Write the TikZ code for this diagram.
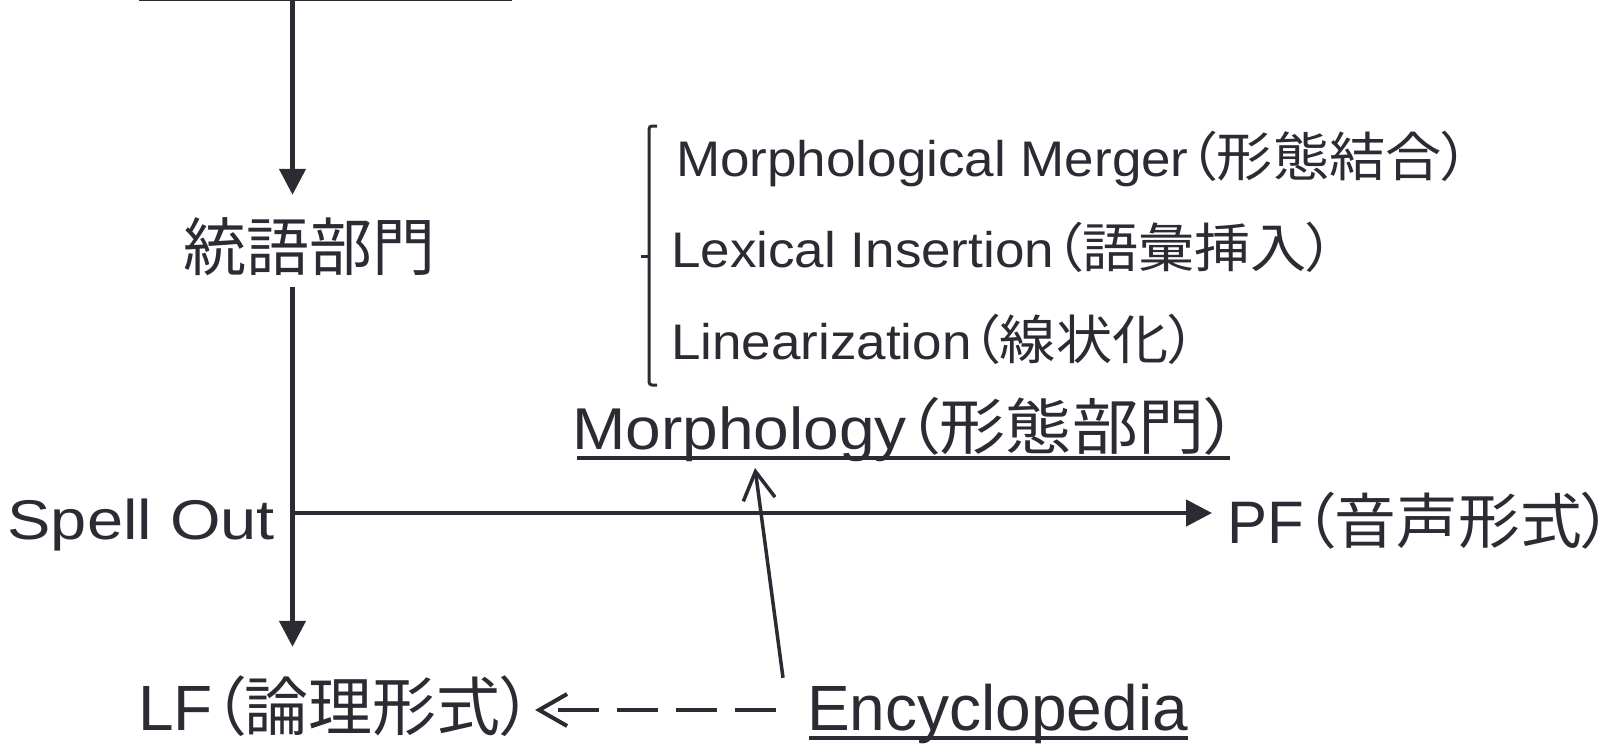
\documentclass[tikz,border=0pt]{standalone}
\usepackage{fontspec}
\usepackage{graphicx}
\setmainfont{Liberation Sans}
\newfontfamily\cjk[RawFeature=+palt]{Noto Sans CJK JP}
\newcommand\J[1]{{\cjk #1}}
\newcommand\SX[2]{\scalebox{#1}[1]{#2}}
\newcommand\fs[1]{\fontsize{#1}{#1}\selectfont}
\newcommand\ItemJ[1]{{\cjk\fs{53}#1}}
\usetikzlibrary{arrows.meta,calc}
\definecolor{ink}{RGB}{43,43,51}
\begin{document}
\begin{tikzpicture}[x=1pt,y=-1pt,
  txt/.style={inner sep=0pt, text=ink, text height=46pt, text depth=6pt},
  item/.style={inner sep=0pt, text=ink, font=\fs{50}},
  arr/.style={draw=ink, line width=4.5pt, -{Triangle[length=26pt,width=26pt]}},
  barb/.style={draw=ink, line width=3.5pt, -{Straight Barb[length=28pt,width=32pt]}},
  dasharr/.style={draw=ink, line width=4pt, dash pattern=on 41pt off 18pt, -{Straight Barb[length=28pt,width=32pt]}},
  uline/.style={draw=ink, line width=3.5pt},
  brack/.style={draw=ink, line width=3pt}]
\useasboundingbox (0,0) rectangle (1619,744);
% text nodes
\node[txt, anchor=base west, font=\fs{63}] (syn) at (183,270) {\J{統語部門}};
\node[txt, anchor=base east, font=\fs{56}] (spell) at (275,539) {\SX{1.16}{Spell Out}};
\node[txt, anchor=base west, font=\fs{60}] (pf) at (1227,543) {PF\SX{1.03}{\J{（音声形式）}}};
\node[txt, anchor=base west, font=\fs{64}] (lf) at (138,730) {LF\J{（論理形式）}};
\node[txt, anchor=base west, font=\fs{59}] (morph) at (572,449) {\SX{1.085}{Morphology{\cjk\fs{61}（形態部門）}}};
\node[txt, anchor=base west, font=\fs{64}] (ency) at (807,730) {Encyclopedia};
\node[item, anchor=base west] (mm) at (676,176) {\SX{1.06}{Morphological Merger\ItemJ{（形態結合）}}};
\node[item, anchor=base west] (li) at (671,267) {\SX{1.06}{Lexical Insertion\ItemJ{（語彙挿入）}}};
\node[item, anchor=base west] (lin) at (671,359) {\SX{1.06}{Linearization\ItemJ{（線状化）}}};
% top line and spine
\coordinate (tl) at (139,-1);
\coordinate (tr) at (512,-1);
\coordinate (top) at (292.5,0);
\coordinate (so) at (292.5,513);
\draw[uline, line width=4pt] (tl) -- (tr);
\draw[arr, shorten >=29pt] (top) -- (top |- syn.north);
\draw[arr, shorten <=11pt, shorten >=37pt] (top |- syn.south) -- (top |- lf.north);
\draw[arr, shorten >=15pt] (so) -- (so -| pf.west);
% encyclopedia arrows
\draw[barb] ([xshift=-24pt,yshift=6pt]ency.north west) -- ([xshift=183pt,yshift=-19pt]morph.base west);
\draw[dasharr, shorten <=31pt, shorten >=2pt] ([yshift=20pt]ency.base west) -- ([yshift=20pt]lf.base east);
% underlines
\coordinate (mu1) at (577,458);
\coordinate (mu2) at (1230,458);
\coordinate (eu1) at (809,738);
\coordinate (eu2) at (1188,738);
\draw[uline] (mu1) -- (mu2);
\draw[uline] (eu1) -- (eu2);
% bracket
\draw[brack, rounded corners=3pt] (657,126) -- (649,126) -- (649,385) -- (657,385);
\draw[brack] (649,256) -- (641,256);
\end{tikzpicture}
\end{document}
